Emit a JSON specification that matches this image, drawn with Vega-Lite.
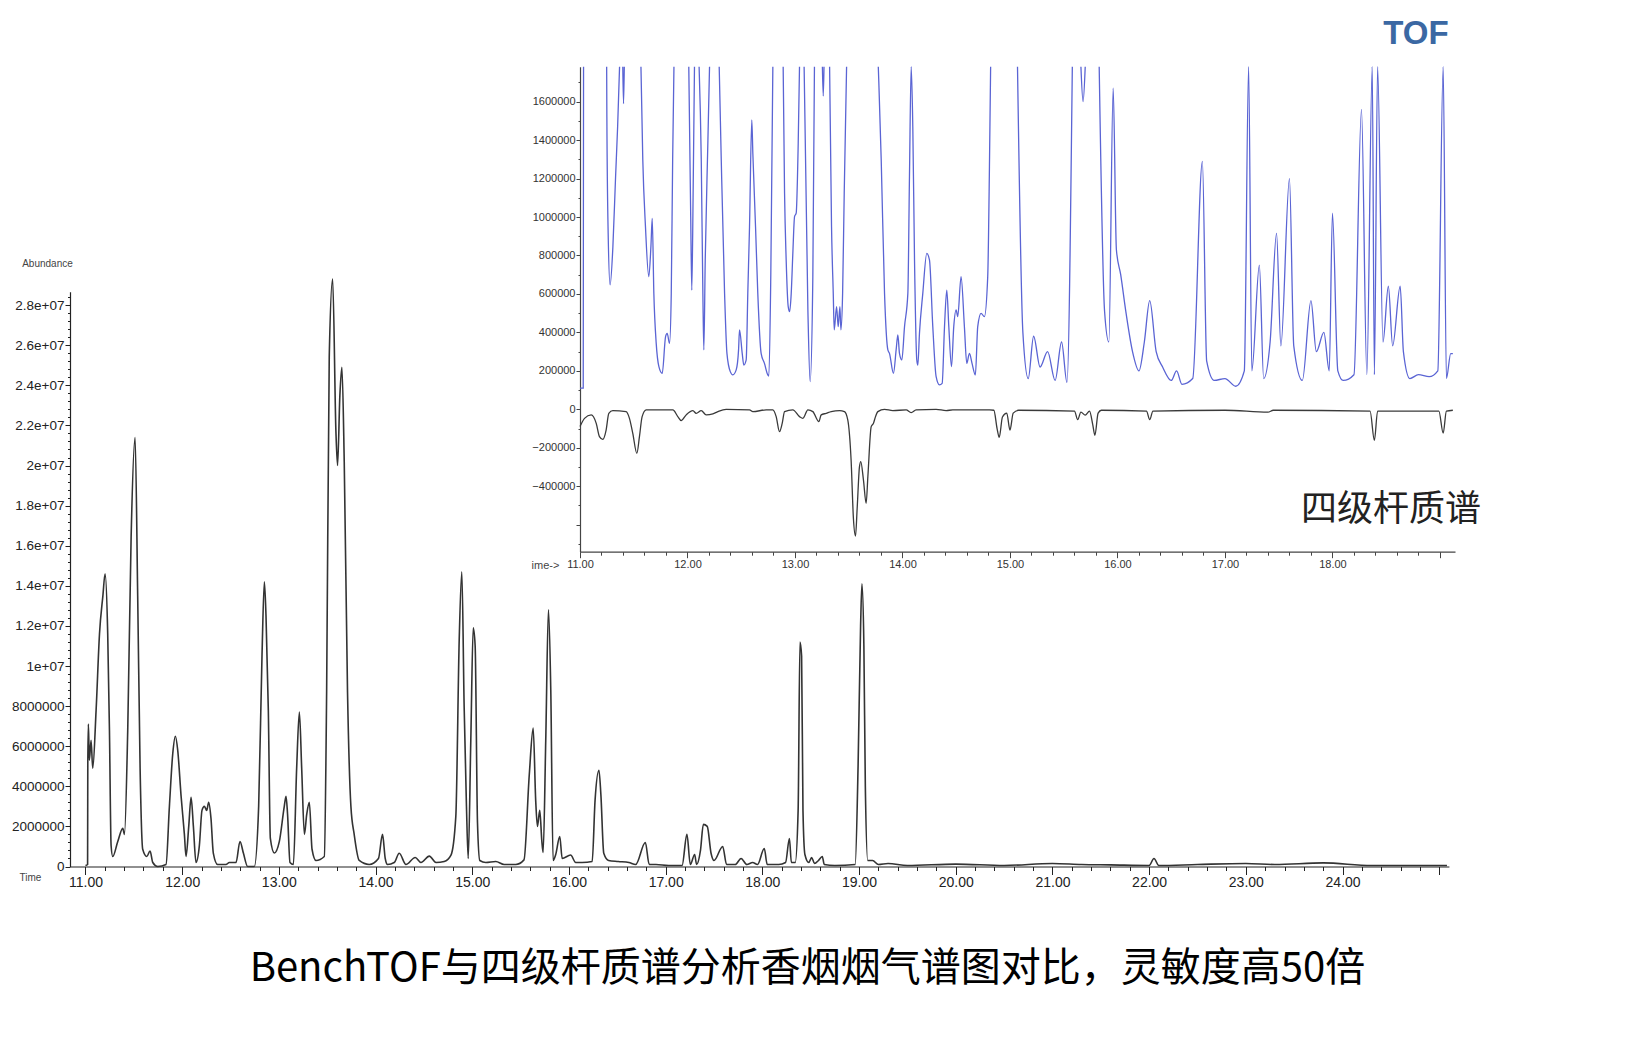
{
"$schema":"https://vega.github.io/schema/vega-lite/v6.json",
"width":1625,"height":1039,"autosize":"none","padding":0,"background":"white",
"config":{"view":{"stroke":null},"axis":{"grid":false},"font":"Liberation Sans"},
"datasets":{
"main":[
{"t":11.000,"a":50000},{"t":11.022,"a":100000},{"t":11.024,"a":5100000},{"t":11.030,"a":7100000},{"t":11.040,"a":5300000},{"t":11.058,"a":6300000},{"t":11.075,"a":4900000},{"t":11.110,"a":7800000},{"t":11.145,"a":11600000},{"t":11.180,"a":13500000},{"t":11.203,"a":14600000},{"t":11.230,"a":11600000},{"t":11.248,"a":6800000},{"t":11.265,"a":1050000},{"t":11.282,"a":500000},{"t":11.334,"a":1250000},{"t":11.386,"a":1900000},{"t":11.403,"a":1600000},{"t":11.437,"a":6800000},{"t":11.472,"a":16400000},{"t":11.513,"a":21400000},{"t":11.540,"a":13500000},{"t":11.565,"a":4900000},{"t":11.592,"a":860000},{"t":11.634,"a":500000},{"t":11.668,"a":770000},{"t":11.696,"a":200000},{"t":11.747,"a":0},{"t":11.833,"a":100000},{"t":11.868,"a":3000000},{"t":11.903,"a":5650000},{"t":11.930,"a":6500000},{"t":11.954,"a":5800000},{"t":11.989,"a":3500000},{"t":12.023,"a":1600000},{"t":12.040,"a":500000},{"t":12.068,"a":2000000},{"t":12.092,"a":3450000},{"t":12.116,"a":2000000},{"t":12.143,"a":200000},{"t":12.178,"a":1050000},{"t":12.205,"a":2800000},{"t":12.230,"a":3000000},{"t":12.254,"a":2800000},{"t":12.274,"a":3200000},{"t":12.298,"a":2400000},{"t":12.322,"a":670000},{"t":12.367,"a":100000},{"t":12.453,"a":100000},{"t":12.488,"a":200000},{"t":12.557,"a":200000},{"t":12.598,"a":1250000},{"t":12.633,"a":670000},{"t":12.677,"a":0},{"t":12.746,"a":0},{"t":12.791,"a":3000000},{"t":12.826,"a":10600000},{"t":12.850,"a":14200000},{"t":12.867,"a":12500000},{"t":12.891,"a":7800000},{"t":12.912,"a":1400000},{"t":12.953,"a":670000},{"t":13.005,"a":1250000},{"t":13.056,"a":3000000},{"t":13.074,"a":3500000},{"t":13.090,"a":2600000},{"t":13.115,"a":200000},{"t":13.150,"a":100000},{"t":13.184,"a":4900000},{"t":13.212,"a":7700000},{"t":13.236,"a":4900000},{"t":13.264,"a":1600000},{"t":13.288,"a":2600000},{"t":13.315,"a":3200000},{"t":13.343,"a":860000},{"t":13.384,"a":300000},{"t":13.470,"a":500000},{"t":13.494,"a":8700000},{"t":13.521,"a":25400000},{"t":13.556,"a":29300000},{"t":13.590,"a":21700000},{"t":13.607,"a":20000000},{"t":13.631,"a":23500000},{"t":13.652,"a":24900000},{"t":13.676,"a":20200000},{"t":13.710,"a":8700000},{"t":13.745,"a":3000000},{"t":13.779,"a":1600000},{"t":13.831,"a":300000},{"t":13.934,"a":100000},{"t":14.030,"a":400000},{"t":14.072,"a":1600000},{"t":14.100,"a":400000},{"t":14.124,"a":100000},{"t":14.193,"a":200000},{"t":14.245,"a":660000},{"t":14.314,"a":100000},{"t":14.410,"a":450000},{"t":14.470,"a":200000},{"t":14.556,"a":520000},{"t":14.625,"a":200000},{"t":14.710,"a":250000},{"t":14.780,"a":570000},{"t":14.830,"a":2500000},{"t":14.865,"a":11300000},{"t":14.892,"a":14700000},{"t":14.916,"a":8000000},{"t":14.940,"a":3000000},{"t":14.958,"a":400000},{"t":14.985,"a":6300000},{"t":15.010,"a":11900000},{"t":15.030,"a":11000000},{"t":15.054,"a":2200000},{"t":15.078,"a":300000},{"t":15.140,"a":200000},{"t":15.243,"a":250000},{"t":15.330,"a":100000},{"t":15.450,"a":100000},{"t":15.535,"a":330000},{"t":15.590,"a":4600000},{"t":15.630,"a":6900000},{"t":15.656,"a":3300000},{"t":15.674,"a":2000000},{"t":15.698,"a":2800000},{"t":15.719,"a":1300000},{"t":15.733,"a":700000},{"t":15.760,"a":6300000},{"t":15.788,"a":12800000},{"t":15.812,"a":8800000},{"t":15.836,"a":300000},{"t":15.863,"a":600000},{"t":15.905,"a":1500000},{"t":15.930,"a":400000},{"t":16.017,"a":570000},{"t":16.070,"a":200000},{"t":16.135,"a":200000},{"t":16.240,"a":250000},{"t":16.270,"a":3300000},{"t":16.310,"a":4800000},{"t":16.330,"a":3600000},{"t":16.360,"a":660000},{"t":16.410,"a":300000},{"t":16.510,"a":250000},{"t":16.620,"a":200000},{"t":16.690,"a":100000},{"t":16.790,"a":1200000},{"t":16.830,"a":100000},{"t":16.900,"a":100000},{"t":17.030,"a":50000},{"t":17.170,"a":50000},{"t":17.220,"a":1600000},{"t":17.255,"a":100000},{"t":17.300,"a":600000},{"t":17.320,"a":100000},{"t":17.360,"a":800000},{"t":17.390,"a":2100000},{"t":17.430,"a":2000000},{"t":17.470,"a":650000},{"t":17.500,"a":300000},{"t":17.590,"a":1000000},{"t":17.630,"a":100000},{"t":17.720,"a":100000},{"t":17.780,"a":400000},{"t":17.840,"a":100000},{"t":17.900,"a":200000},{"t":17.950,"a":100000},{"t":18.020,"a":900000},{"t":18.050,"a":100000},{"t":18.170,"a":100000},{"t":18.240,"a":200000},{"t":18.280,"a":1400000},{"t":18.300,"a":200000},{"t":18.340,"a":200000},{"t":18.370,"a":2800000},{"t":18.389,"a":11200000},{"t":18.406,"a":10500000},{"t":18.420,"a":2800000},{"t":18.440,"a":600000},{"t":18.480,"a":200000},{"t":18.510,"a":450000},{"t":18.540,"a":150000},{"t":18.580,"a":300000},{"t":18.620,"a":500000},{"t":18.640,"a":100000},{"t":18.750,"a":50000},{"t":18.960,"a":100000},{"t":18.990,"a":5000000},{"t":19.016,"a":12000000},{"t":19.030,"a":14100000},{"t":19.050,"a":11000000},{"t":19.065,"a":4000000},{"t":19.090,"a":300000},{"t":19.140,"a":300000},{"t":19.200,"a":100000},{"t":19.300,"a":150000},{"t":19.500,"a":50000},{"t":20.000,"a":120000},{"t":20.500,"a":50000},{"t":21.000,"a":150000},{"t":21.300,"a":100000},{"t":21.600,"a":80000},{"t":22.000,"a":50000},{"t":22.050,"a":400000},{"t":22.100,"a":50000},{"t":22.500,"a":100000},{"t":23.000,"a":150000},{"t":23.300,"a":100000},{"t":23.800,"a":180000},{"t":24.300,"a":50000},{"t":25.080,"a":50000}
],
"inset":[
{"t":11.000,"v":110000,"s":"TOF","g":"b1"},{"t":11.030,"v":110000,"s":"TOF","g":"b1"},{"t":11.033,"v":1790000,"s":"TOF","g":"b1"},
{"t":11.248,"v":1790000,"s":"TOF","g":"b2"},{"t":11.250,"v":1520000,"s":"TOF","g":"b2"},{"t":11.262,"v":915000,"s":"TOF","g":"b2"},{"t":11.280,"v":647000,"s":"TOF","g":"b2"},{"t":11.306,"v":846000,"s":"TOF","g":"b2"},{"t":11.331,"v":1210000,"s":"TOF","g":"b2"},{"t":11.350,"v":1470000,"s":"TOF","g":"b2"},{"t":11.368,"v":1790000,"s":"TOF","g":"b2"},
{"t":11.398,"v":1790000,"s":"TOF","g":"b3"},{"t":11.405,"v":1590000,"s":"TOF","g":"b3"},{"t":11.412,"v":1790000,"s":"TOF","g":"b3"},
{"t":11.567,"v":1790000,"s":"TOF","g":"b4"},{"t":11.584,"v":1300000,"s":"TOF","g":"b4"},{"t":11.609,"v":950000,"s":"TOF","g":"b4"},{"t":11.640,"v":690000,"s":"TOF","g":"b4"},{"t":11.660,"v":850000,"s":"TOF","g":"b4"},{"t":11.672,"v":993000,"s":"TOF","g":"b4"},{"t":11.687,"v":603000,"s":"TOF","g":"b4"},{"t":11.709,"v":343000,"s":"TOF","g":"b4"},{"t":11.734,"v":222000,"s":"TOF","g":"b4"},{"t":11.765,"v":187000,"s":"TOF","g":"b4"},{"t":11.796,"v":378000,"s":"TOF","g":"b4"},{"t":11.811,"v":395000,"s":"TOF","g":"b4"},{"t":11.833,"v":343000,"s":"TOF","g":"b4"},{"t":11.849,"v":603000,"s":"TOF","g":"b4"},{"t":11.862,"v":1300000,"s":"TOF","g":"b4"},{"t":11.874,"v":1790000,"s":"TOF","g":"b4"},
{"t":12.012,"v":1790000,"s":"TOF","g":"b5"},{"t":12.030,"v":1000000,"s":"TOF","g":"b5"},{"t":12.040,"v":620000,"s":"TOF","g":"b5"},{"t":12.052,"v":1100000,"s":"TOF","g":"b5"},{"t":12.065,"v":1790000,"s":"TOF","g":"b5"},
{"t":12.108,"v":1790000,"s":"TOF","g":"b6"},{"t":12.128,"v":1300000,"s":"TOF","g":"b6"},{"t":12.143,"v":603000,"s":"TOF","g":"b6"},{"t":12.152,"v":309000,"s":"TOF","g":"b6"},{"t":12.165,"v":777000,"s":"TOF","g":"b6"},{"t":12.190,"v":1400000,"s":"TOF","g":"b6"},{"t":12.205,"v":1790000,"s":"TOF","g":"b6"},
{"t":12.295,"v":1790000,"s":"TOF","g":"b7"},{"t":12.314,"v":1300000,"s":"TOF","g":"b7"},{"t":12.345,"v":603000,"s":"TOF","g":"b7"},{"t":12.367,"v":291000,"s":"TOF","g":"b7"},{"t":12.398,"v":196000,"s":"TOF","g":"b7"},{"t":12.422,"v":179000,"s":"TOF","g":"b7"},{"t":12.453,"v":205000,"s":"TOF","g":"b7"},{"t":12.475,"v":309000,"s":"TOF","g":"b7"},{"t":12.484,"v":413000,"s":"TOF","g":"b7"},{"t":12.509,"v":291000,"s":"TOF","g":"b7"},{"t":12.524,"v":230000,"s":"TOF","g":"b7"},{"t":12.546,"v":257000,"s":"TOF","g":"b7"},{"t":12.561,"v":603000,"s":"TOF","g":"b7"},{"t":12.577,"v":950000,"s":"TOF","g":"b7"},{"t":12.598,"v":1505000,"s":"TOF","g":"b7"},{"t":12.608,"v":1330000,"s":"TOF","g":"b7"},{"t":12.633,"v":950000,"s":"TOF","g":"b7"},{"t":12.654,"v":603000,"s":"TOF","g":"b7"},{"t":12.685,"v":291000,"s":"TOF","g":"b7"},{"t":12.716,"v":239000,"s":"TOF","g":"b7"},{"t":12.747,"v":179000,"s":"TOF","g":"b7"},{"t":12.757,"v":173000,"s":"TOF","g":"b7"},{"t":12.775,"v":700000,"s":"TOF","g":"b7"},{"t":12.794,"v":1790000,"s":"TOF","g":"b7"},
{"t":12.890,"v":1790000,"s":"TOF","g":"b8"},{"t":12.903,"v":1124000,"s":"TOF","g":"b8"},{"t":12.918,"v":777000,"s":"TOF","g":"b8"},{"t":12.937,"v":534000,"s":"TOF","g":"b8"},{"t":12.950,"v":508000,"s":"TOF","g":"b8"},{"t":12.965,"v":603000,"s":"TOF","g":"b8"},{"t":12.980,"v":811000,"s":"TOF","g":"b8"},{"t":12.996,"v":1002000,"s":"TOF","g":"b8"},{"t":13.011,"v":1020000,"s":"TOF","g":"b8"},{"t":13.030,"v":1384000,"s":"TOF","g":"b8"},{"t":13.042,"v":1790000,"s":"TOF","g":"b8"},
{"t":13.085,"v":1790000,"s":"TOF","g":"b9"},{"t":13.120,"v":517000,"s":"TOF","g":"b9"},{"t":13.141,"v":144000,"s":"TOF","g":"b9"},{"t":13.166,"v":690000,"s":"TOF","g":"b9"},{"t":13.181,"v":1790000,"s":"TOF","g":"b9"},
{"t":13.255,"v":1790000,"s":"TOF","g":"b10"},{"t":13.263,"v":1630000,"s":"TOF","g":"b10"},{"t":13.270,"v":1790000,"s":"TOF","g":"b10"},
{"t":13.322,"v":1790000,"s":"TOF","g":"b11"},{"t":13.340,"v":950000,"s":"TOF","g":"b11"},{"t":13.356,"v":603000,"s":"TOF","g":"b11"},{"t":13.365,"v":413000,"s":"TOF","g":"b11"},{"t":13.387,"v":534000,"s":"TOF","g":"b11"},{"t":13.402,"v":430000,"s":"TOF","g":"b11"},{"t":13.418,"v":534000,"s":"TOF","g":"b11"},{"t":13.427,"v":413000,"s":"TOF","g":"b11"},{"t":13.443,"v":603000,"s":"TOF","g":"b11"},{"t":13.458,"v":1124000,"s":"TOF","g":"b11"},{"t":13.480,"v":1790000,"s":"TOF","g":"b11"},
{"t":13.775,"v":1790000,"s":"TOF","g":"b12"},{"t":13.780,"v":1700000,"s":"TOF","g":"b12"},{"t":13.802,"v":1300000,"s":"TOF","g":"b12"},{"t":13.833,"v":603000,"s":"TOF","g":"b12"},{"t":13.864,"v":309000,"s":"TOF","g":"b12"},{"t":13.879,"v":291000,"s":"TOF","g":"b12"},{"t":13.916,"v":187000,"s":"TOF","g":"b12"},{"t":13.941,"v":309000,"s":"TOF","g":"b12"},{"t":13.957,"v":387000,"s":"TOF","g":"b12"},{"t":13.972,"v":291000,"s":"TOF","g":"b12"},{"t":13.994,"v":257000,"s":"TOF","g":"b12"},{"t":14.019,"v":430000,"s":"TOF","g":"b12"},{"t":14.050,"v":603000,"s":"TOF","g":"b12"},{"t":14.065,"v":1210000,"s":"TOF","g":"b12"},{"t":14.081,"v":1790000,"s":"TOF","g":"b12"},{"t":14.096,"v":1470000,"s":"TOF","g":"b12"},{"t":14.112,"v":777000,"s":"TOF","g":"b12"},{"t":14.133,"v":257000,"s":"TOF","g":"b12"},{"t":14.143,"v":230000,"s":"TOF","g":"b12"},{"t":14.158,"v":395000,"s":"TOF","g":"b12"},{"t":14.189,"v":603000,"s":"TOF","g":"b12"},{"t":14.226,"v":811000,"s":"TOF","g":"b12"},{"t":14.251,"v":777000,"s":"TOF","g":"b12"},{"t":14.282,"v":430000,"s":"TOF","g":"b12"},{"t":14.313,"v":170000,"s":"TOF","g":"b12"},{"t":14.344,"v":127000,"s":"TOF","g":"b12"},{"t":14.369,"v":135000,"s":"TOF","g":"b12"},{"t":14.391,"v":430000,"s":"TOF","g":"b12"},{"t":14.412,"v":620000,"s":"TOF","g":"b12"},{"t":14.431,"v":430000,"s":"TOF","g":"b12"},{"t":14.456,"v":222000,"s":"TOF","g":"b12"},{"t":14.477,"v":430000,"s":"TOF","g":"b12"},{"t":14.499,"v":517000,"s":"TOF","g":"b12"},{"t":14.514,"v":482000,"s":"TOF","g":"b12"},{"t":14.545,"v":690000,"s":"TOF","g":"b12"},{"t":14.576,"v":430000,"s":"TOF","g":"b12"},{"t":14.598,"v":239000,"s":"TOF","g":"b12"},{"t":14.623,"v":291000,"s":"TOF","g":"b12"},{"t":14.647,"v":239000,"s":"TOF","g":"b12"},{"t":14.678,"v":179000,"s":"TOF","g":"b12"},{"t":14.700,"v":430000,"s":"TOF","g":"b12"},{"t":14.731,"v":499000,"s":"TOF","g":"b12"},{"t":14.762,"v":482000,"s":"TOF","g":"b12"},{"t":14.793,"v":690000,"s":"TOF","g":"b12"},{"t":14.809,"v":1262000,"s":"TOF","g":"b12"},{"t":14.820,"v":1790000,"s":"TOF","g":"b12"},
{"t":15.070,"v":1790000,"s":"TOF","g":"b13"},{"t":15.120,"v":400000,"s":"TOF","g":"b13"},{"t":15.170,"v":160000,"s":"TOF","g":"b13"},{"t":15.220,"v":380000,"s":"TOF","g":"b13"},{"t":15.280,"v":220000,"s":"TOF","g":"b13"},{"t":15.350,"v":300000,"s":"TOF","g":"b13"},{"t":15.420,"v":150000,"s":"TOF","g":"b13"},{"t":15.480,"v":350000,"s":"TOF","g":"b13"},{"t":15.530,"v":140000,"s":"TOF","g":"b13"},{"t":15.580,"v":1790000,"s":"TOF","g":"b13"},
{"t":15.660,"v":1790000,"s":"TOF","g":"b14"},{"t":15.680,"v":1600000,"s":"TOF","g":"b14"},{"t":15.700,"v":1790000,"s":"TOF","g":"b14"},
{"t":15.830,"v":1790000,"s":"TOF","g":"b15"},{"t":15.880,"v":510000,"s":"TOF","g":"b15"},{"t":15.920,"v":350000,"s":"TOF","g":"b15"},{"t":15.960,"v":1670000,"s":"TOF","g":"b15"},{"t":15.990,"v":830000,"s":"TOF","g":"b15"},{"t":16.030,"v":700000,"s":"TOF","g":"b15"},{"t":16.080,"v":500000,"s":"TOF","g":"b15"},{"t":16.140,"v":300000,"s":"TOF","g":"b15"},{"t":16.200,"v":200000,"s":"TOF","g":"b15"},{"t":16.250,"v":350000,"s":"TOF","g":"b15"},{"t":16.300,"v":565000,"s":"TOF","g":"b15"},{"t":16.360,"v":300000,"s":"TOF","g":"b15"},{"t":16.420,"v":220000,"s":"TOF","g":"b15"},{"t":16.500,"v":150000,"s":"TOF","g":"b15"},{"t":16.550,"v":200000,"s":"TOF","g":"b15"},{"t":16.600,"v":130000,"s":"TOF","g":"b15"},{"t":16.700,"v":160000,"s":"TOF","g":"b15"},{"t":16.790,"v":1290000,"s":"TOF","g":"b15"},{"t":16.830,"v":250000,"s":"TOF","g":"b15"},{"t":16.900,"v":150000,"s":"TOF","g":"b15"},{"t":17.000,"v":160000,"s":"TOF","g":"b15"},{"t":17.100,"v":120000,"s":"TOF","g":"b15"},{"t":17.180,"v":200000,"s":"TOF","g":"b15"},{"t":17.220,"v":1790000,"s":"TOF","g":"b15"},{"t":17.250,"v":200000,"s":"TOF","g":"b15"},{"t":17.320,"v":750000,"s":"TOF","g":"b15"},{"t":17.360,"v":160000,"s":"TOF","g":"b15"},{"t":17.420,"v":350000,"s":"TOF","g":"b15"},{"t":17.480,"v":915000,"s":"TOF","g":"b15"},{"t":17.520,"v":330000,"s":"TOF","g":"b15"},{"t":17.600,"v":1200000,"s":"TOF","g":"b15"},{"t":17.640,"v":330000,"s":"TOF","g":"b15"},{"t":17.720,"v":150000,"s":"TOF","g":"b15"},{"t":17.800,"v":565000,"s":"TOF","g":"b15"},{"t":17.850,"v":300000,"s":"TOF","g":"b15"},{"t":17.920,"v":400000,"s":"TOF","g":"b15"},{"t":17.970,"v":200000,"s":"TOF","g":"b15"},{"t":18.000,"v":1020000,"s":"TOF","g":"b15"},{"t":18.050,"v":200000,"s":"TOF","g":"b15"},{"t":18.100,"v":150000,"s":"TOF","g":"b15"},{"t":18.200,"v":180000,"s":"TOF","g":"b15"},{"t":18.270,"v":1560000,"s":"TOF","g":"b15"},{"t":18.320,"v":180000,"s":"TOF","g":"b15"},{"t":18.370,"v":1790000,"s":"TOF","g":"b15"},{"t":18.390,"v":180000,"s":"TOF","g":"b15"},{"t":18.420,"v":1790000,"s":"TOF","g":"b15"},{"t":18.470,"v":350000,"s":"TOF","g":"b15"},{"t":18.520,"v":640000,"s":"TOF","g":"b15"},{"t":18.560,"v":330000,"s":"TOF","g":"b15"},{"t":18.630,"v":640000,"s":"TOF","g":"b15"},{"t":18.660,"v":300000,"s":"TOF","g":"b15"},{"t":18.720,"v":160000,"s":"TOF","g":"b15"},{"t":18.800,"v":180000,"s":"TOF","g":"b15"},{"t":18.900,"v":170000,"s":"TOF","g":"b15"},{"t":18.980,"v":200000,"s":"TOF","g":"b15"},{"t":19.030,"v":1790000,"s":"TOF","g":"b15"},{"t":19.060,"v":160000,"s":"TOF","g":"b15"},{"t":19.100,"v":290000,"s":"TOF","g":"b15"},{"t":19.120,"v":290000,"s":"TOF","g":"b15"},
{"t":11.000,"v":-90000,"s":"Quad","g":"q"},{"t":11.042,"v":-47000,"s":"Quad","g":"q"},{"t":11.104,"v":-29000,"s":"Quad","g":"q"},{"t":11.151,"v":-73000,"s":"Quad","g":"q"},{"t":11.181,"v":-142000,"s":"Quad","g":"q"},{"t":11.212,"v":-156000,"s":"Quad","g":"q"},{"t":11.243,"v":-108000,"s":"Quad","g":"q"},{"t":11.268,"v":-21000,"s":"Quad","g":"q"},{"t":11.305,"v":-7000,"s":"Quad","g":"q"},{"t":11.429,"v":-12000,"s":"Quad","g":"q"},{"t":11.460,"v":-47000,"s":"Quad","g":"q"},{"t":11.491,"v":-125000,"s":"Quad","g":"q"},{"t":11.529,"v":-229000,"s":"Quad","g":"q"},{"t":11.553,"v":-142000,"s":"Quad","g":"q"},{"t":11.578,"v":-38000,"s":"Quad","g":"q"},{"t":11.616,"v":-3000,"s":"Quad","g":"q"},{"t":11.864,"v":-3000,"s":"Quad","g":"q"},{"t":11.910,"v":-38000,"s":"Quad","g":"q"},{"t":11.941,"v":-59000,"s":"Quad","g":"q"},{"t":11.988,"v":-29000,"s":"Quad","g":"q"},{"t":12.050,"v":-7000,"s":"Quad","g":"q"},{"t":12.081,"v":-21000,"s":"Quad","g":"q"},{"t":12.128,"v":-7000,"s":"Quad","g":"q"},{"t":12.174,"v":-29000,"s":"Quad","g":"q"},{"t":12.236,"v":-24000,"s":"Quad","g":"q"},{"t":12.282,"v":-12000,"s":"Quad","g":"q"},{"t":12.360,"v":0,"s":"Quad","g":"q"},{"t":12.577,"v":-3000,"s":"Quad","g":"q"},{"t":12.608,"v":-12000,"s":"Quad","g":"q"},{"t":12.732,"v":-3000,"s":"Quad","g":"q"},{"t":12.794,"v":-3000,"s":"Quad","g":"q"},{"t":12.825,"v":-38000,"s":"Quad","g":"q"},{"t":12.856,"v":-116000,"s":"Quad","g":"q"},{"t":12.881,"v":-73000,"s":"Quad","g":"q"},{"t":12.903,"v":-12000,"s":"Quad","g":"q"},{"t":12.980,"v":-3000,"s":"Quad","g":"q"},{"t":13.042,"v":-38000,"s":"Quad","g":"q"},{"t":13.074,"v":-47000,"s":"Quad","g":"q"},{"t":13.120,"v":-3000,"s":"Quad","g":"q"},{"t":13.166,"v":-12000,"s":"Quad","g":"q"},{"t":13.222,"v":-64000,"s":"Quad","g":"q"},{"t":13.244,"v":-29000,"s":"Quad","g":"q"},{"t":13.290,"v":-21000,"s":"Quad","g":"q"},{"t":13.337,"v":-12000,"s":"Quad","g":"q"},{"t":13.415,"v":-7000,"s":"Quad","g":"q"},{"t":13.460,"v":-12000,"s":"Quad","g":"q"},{"t":13.491,"v":-55000,"s":"Quad","g":"q"},{"t":13.522,"v":-264000,"s":"Quad","g":"q"},{"t":13.544,"v":-572000,"s":"Quad","g":"q"},{"t":13.563,"v":-659000,"s":"Quad","g":"q"},{"t":13.578,"v":-520000,"s":"Quad","g":"q"},{"t":13.600,"v":-298000,"s":"Quad","g":"q"},{"t":13.612,"v":-272000,"s":"Quad","g":"q"},{"t":13.637,"v":-368000,"s":"Quad","g":"q"},{"t":13.662,"v":-489000,"s":"Quad","g":"q"},{"t":13.678,"v":-350000,"s":"Quad","g":"q"},{"t":13.709,"v":-90000,"s":"Quad","g":"q"},{"t":13.730,"v":-73000,"s":"Quad","g":"q"},{"t":13.749,"v":-38000,"s":"Quad","g":"q"},{"t":13.771,"v":-12000,"s":"Quad","g":"q"},{"t":13.833,"v":0,"s":"Quad","g":"q"},{"t":13.910,"v":-7000,"s":"Quad","g":"q"},{"t":14.034,"v":-3000,"s":"Quad","g":"q"},{"t":14.081,"v":-17000,"s":"Quad","g":"q"},{"t":14.127,"v":-3000,"s":"Quad","g":"q"},{"t":14.313,"v":0,"s":"Quad","g":"q"},{"t":14.406,"v":-7000,"s":"Quad","g":"q"},{"t":14.468,"v":-3000,"s":"Quad","g":"q"},{"t":14.810,"v":-3000,"s":"Quad","g":"q"},{"t":14.850,"v":-5000,"s":"Quad","g":"q"},{"t":14.880,"v":-100000,"s":"Quad","g":"q"},{"t":14.900,"v":-146000,"s":"Quad","g":"q"},{"t":14.930,"v":-40000,"s":"Quad","g":"q"},{"t":14.970,"v":-20000,"s":"Quad","g":"q"},{"t":15.000,"v":-108000,"s":"Quad","g":"q"},{"t":15.030,"v":-20000,"s":"Quad","g":"q"},{"t":15.080,"v":-5000,"s":"Quad","g":"q"},{"t":15.600,"v":-10000,"s":"Quad","g":"q"},{"t":15.630,"v":-54000,"s":"Quad","g":"q"},{"t":15.660,"v":-15000,"s":"Quad","g":"q"},{"t":15.700,"v":-30000,"s":"Quad","g":"q"},{"t":15.740,"v":-10000,"s":"Quad","g":"q"},{"t":15.770,"v":-80000,"s":"Quad","g":"q"},{"t":15.790,"v":-135000,"s":"Quad","g":"q"},{"t":15.820,"v":-20000,"s":"Quad","g":"q"},{"t":15.850,"v":-5000,"s":"Quad","g":"q"},{"t":16.270,"v":-10000,"s":"Quad","g":"q"},{"t":16.300,"v":-54000,"s":"Quad","g":"q"},{"t":16.330,"v":-10000,"s":"Quad","g":"q"},{"t":17.000,"v":-5000,"s":"Quad","g":"q"},{"t":17.400,"v":-15000,"s":"Quad","g":"q"},{"t":17.450,"v":-5000,"s":"Quad","g":"q"},{"t":18.350,"v":-10000,"s":"Quad","g":"q"},{"t":18.390,"v":-162000,"s":"Quad","g":"q"},{"t":18.420,"v":-10000,"s":"Quad","g":"q"},{"t":18.990,"v":-10000,"s":"Quad","g":"q"},{"t":19.030,"v":-124000,"s":"Quad","g":"q"},{"t":19.060,"v":-10000,"s":"Quad","g":"q"},{"t":19.120,"v":-5000,"s":"Quad","g":"q"}
],
"tofnote":[{"t":24.759,"a":41520000,"label":"TOF"}],
"caption":[{"t":18.466,"a":-5110000,"label":"BenchTOF与四级杆质谱分析香烟烟气谱图对比，灵敏度高50倍"}],
"quadnote":[{"t":18.544,"v":-524000,"label":"四级杆质谱"}]
},
"layer":[
{
"data":{"name":"main"},
"mark":{"type":"line","color":"#333333","strokeWidth":1.6,"interpolate":"monotone"},
"encoding":{
"x":{"field":"t","type":"quantitative","scale":{"domain":[10.84,25.1],"range":[70,1448.9],"nice":false,"zero":false},
"axis":{"orient":"bottom","offset":-172.5,
"values":[11,11.2,11.4,11.6,11.8,12,12.2,12.4,12.6,12.8,13,13.2,13.4,13.6,13.8,14,14.2,14.4,14.6,14.8,15,15.2,15.4,15.6,15.8,16,16.2,16.4,16.6,16.8,17,17.2,17.4,17.6,17.8,18,18.2,18.4,18.6,18.8,19,19.2,19.4,19.6,19.8,20,20.2,20.4,20.6,20.8,21,21.2,21.4,21.6,21.8,22,22.2,22.4,22.6,22.8,23,23.2,23.4,23.6,23.8,24,24.2,24.4,24.6,24.8,25],
"labelExpr":"(abs(datum.value-round(datum.value))<0.001 && datum.value<24.5) ? format(datum.value,'.2f') : ''",
"labelOverlap":false,"labelFlush":false,"labelBound":false,
"labelFont":"Liberation Sans","labelFontSize":14,"labelColor":"#222222","labelPadding":1,
"tickSize":{"condition":{"test":"abs(datum.value-round(datum.value))<0.001","value":8},"value":4},
"tickColor":"#222222","domainColor":"#222222","domainWidth":1.2,
"title":"Time","titleX":30,"titleY":10.5,"titleAngle":0,"titleAlign":"center","titleBaseline":"middle","titleFontSize":10,"titleFontWeight":"normal","titleColor":"#444444","titleFont":"Liberation Sans"}},
"y":{"field":"a","type":"quantitative","scale":{"domain":[0,28670000],"range":[866.5,291.7],"nice":false,"zero":false},
"axis":{"orient":"left","offset":-70,
"values":[0,400000,800000,1200000,1600000,2000000,2400000,2800000,3200000,3600000,4000000,4400000,4800000,5200000,5600000,6000000,6400000,6800000,7200000,7600000,8000000,8400000,8800000,9200000,9600000,10000000,10400000,10800000,11200000,11600000,12000000,12400000,12800000,13200000,13600000,14000000,14400000,14800000,15200000,15600000,16000000,16400000,16800000,17200000,17600000,18000000,18400000,18800000,19200000,19600000,20000000,20400000,20800000,21200000,21600000,22000000,22400000,22800000,23200000,23600000,24000000,24400000,24800000,25200000,25600000,26000000,26400000,26800000,27200000,27600000,28000000,28400000],
"labelExpr":"datum.value % 2000000 == 0 ? (datum.value >= 10000000 ? replace(format(datum.value,'.2~e'),'e+7','e+07') : format(datum.value,'d')) : ''",
"labelOverlap":false,"labelBound":false,"labelFlush":false,
"labelFont":"Liberation Sans","labelFontSize":13.5,"labelColor":"#222222","labelPadding":1,
"tickSize":{"condition":{"test":"datum.value % 2000000 == 0","value":5},"value":2.5},
"tickColor":"#222222","domainColor":"#222222","domainWidth":1.2,
"title":"Abundance","titleX":-23,"titleY":263,"titleAngle":0,"titleAlign":"center","titleBaseline":"middle","titleFontSize":10,"titleFontWeight":"normal","titleColor":"#444444","titleFont":"Liberation Sans"}}
}
},
{
"data":{"name":"inset"},
"mark":{"type":"line","strokeWidth":1.3,"interpolate":"monotone"},
"encoding":{
"x":{"field":"t","type":"quantitative","scale":{"domain":[11,19.14],"range":[580,1455],"nice":false,"zero":false},
"axis":{"orient":"bottom","offset":-487.3,
"values":[11,11.2,11.4,11.6,11.8,12,12.2,12.4,12.6,12.8,13,13.2,13.4,13.6,13.8,14,14.2,14.4,14.6,14.8,15,15.2,15.4,15.6,15.8,16,16.2,16.4,16.6,16.8,17,17.2,17.4,17.6,17.8,18,18.2,18.4,18.6,18.8,19],
"labelExpr":"(abs(datum.value-round(datum.value))<0.001 && datum.value<18.5) ? format(datum.value,'.2f') : ''",
"labelOverlap":false,"labelFlush":false,"labelBound":false,
"labelFont":"Liberation Sans","labelFontSize":11,"labelColor":"#333333","labelPadding":1,
"tickSize":{"condition":{"test":"abs(datum.value-round(datum.value))<0.001","value":6},"value":3.5},
"tickColor":"#444444","domainColor":"#444444","domainWidth":1.2,
"title":"ime->","titleX":545,"titleY":13.5,"titleAngle":0,"titleAlign":"center","titleBaseline":"middle","titleFontSize":11,"titleFontWeight":"normal","titleColor":"#444444","titleFont":"Liberation Sans"}},
"y":{"field":"v","type":"quantitative","scale":{"domain":[-740700,1782000],"range":[551.7,66.7],"nice":false,"zero":false,"clamp":true},
"axis":{"orient":"left","offset":-580,
"values":[-700000,-600000,-500000,-400000,-300000,-200000,-100000,0,100000,200000,300000,400000,500000,600000,700000,800000,900000,1000000,1100000,1200000,1300000,1400000,1500000,1600000,1700000],
"labelExpr":"(datum.value % 200000 == 0 && datum.value >= -400000) ? format(datum.value,'d') : ''",
"labelOverlap":false,"labelBound":false,"labelFlush":false,
"labelFont":"Liberation Sans","labelFontSize":11,"labelColor":"#333333","labelPadding":1,
"tickSize":{"condition":{"test":"datum.value % 200000 == 0","value":4},"value":2},
"tickColor":"#444444","domainColor":"#444444","domainWidth":1.2,"title":null}},
"color":{"field":"s","type":"nominal","scale":{"domain":["TOF","Quad"],"range":["#5a64d4","#3a3a3a"]},"legend":null},
"detail":{"field":"g"}
}
},
{
"data":{"name":"tofnote"},
"mark":{"type":"text","font":"Liberation Sans","fontWeight":"bold","fontSize":33,"color":"#3b68a3","align":"center","baseline":"middle"},
"encoding":{
"x":{"field":"t","type":"quantitative","scale":{"domain":[10.84,25.1],"range":[70,1448.9],"nice":false,"zero":false},"axis":null},
"y":{"field":"a","type":"quantitative","scale":{"domain":[0,28670000],"range":[866.5,291.7],"nice":false,"zero":false},"axis":null},
"text":{"field":"label"}
}
},
{
"data":{"name":"caption"},
"mark":{"type":"text","font":"Noto Sans CJK SC","fontSize":40,"color":"#000000","align":"center","baseline":"middle"},
"encoding":{
"x":{"field":"t","type":"quantitative","scale":{"domain":[10.84,25.1],"range":[70,1448.9],"nice":false,"zero":false},"axis":null},
"y":{"field":"a","type":"quantitative","scale":{"domain":[0,28670000],"range":[866.5,291.7],"nice":false,"zero":false},"axis":null},
"text":{"field":"label"}
}
},
{
"data":{"name":"quadnote"},
"mark":{"type":"text","font":"Noto Sans CJK SC","fontSize":36,"fontWeight":"normal","color":"#222222","align":"center","baseline":"middle"},
"encoding":{
"x":{"field":"t","type":"quantitative","scale":{"domain":[11,19.14],"range":[580,1455],"nice":false,"zero":false},"axis":null},
"y":{"field":"v","type":"quantitative","scale":{"domain":[-740700,1782000],"range":[551.7,66.7],"nice":false,"zero":false},"axis":null},
"text":{"field":"label"}
}
}
],
"resolve":{"scale":{"x":"independent","y":"independent","color":"independent"},"axis":{"x":"independent","y":"independent"}}
}
